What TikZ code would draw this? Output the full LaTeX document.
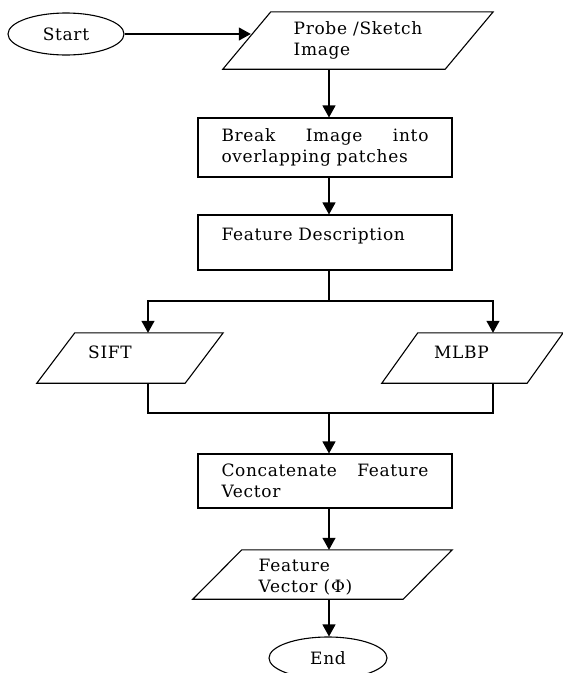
\documentclass[tikz,border=0pt]{standalone}
\usepackage{fontspec}
\setmainfont[LetterSpace=4]{DejaVu Serif}
\usetikzlibrary{shapes.geometric,arrows.meta,calc}
\newcommand\parallelo[2]{\draw[line] ($(#1.north west)+(#2,0)$) -- (#1.north east) -- ($(#1.south east)-(#2,0)$) -- (#1.south west) -- cycle;}
\begin{document}
\begin{tikzpicture}[x=1pt,y=-1pt,
  every node/.style={font=\fontsize{17}{21}\selectfont},
  line/.style={line width=1.1pt},
  base/.style={draw, line width=1.1pt, inner sep=0pt},
  term/.style={base, ellipse, minimum width=116pt, minimum height=42pt},
  io/.style={inner sep=0pt, rectangle},
  proc/.style={base, rectangle, minimum width=254pt, text width=207pt, align=left},
  arr/.style={line, -{Triangle[length=12pt,width=13pt]}}
]
\useasboundingbox (0,0) rectangle (563,673);
\coordinate (ax) at (329,0);
\coordinate (lx) at (148,0);
\coordinate (rx) at (493,0);

\node[term] (start) at (66,34) {Start};
\node[io, minimum width=270pt, minimum height=57pt, align=left] (p1) at (358,40.5)
      {Probe /Sketch\\Image};
\node[proc, minimum height=59pt] (b1) at (325,147.5)
      {\hbox to 207pt{Break\hfill Image\hfill into}\\overlapping patches};
\node[proc, minimum height=55pt] (b2) at (325,242.5)
      {Feature Description\\[-5pt]~};
\node[io, minimum width=186pt, minimum height=50pt,
      label={[xshift=-20pt,yshift=6pt]center:SIFT}] (sift) at (130,358) {};
\node[io, minimum width=181pt, minimum height=50pt,
      label={[xshift=-11pt,yshift=6pt]center:MLBP}] (mlbp) at (472.5,358) {};
\node[proc, minimum height=54pt] (b3) at (325,481)
      {\hbox to 207pt{Concatenate\hfill Feature}\\Vector};
\node[io, minimum width=259pt, minimum height=49pt,
      label={[xshift=-17pt,yshift=-3pt,align=left]center:Feature\\Vector (Φ)}] (p2) at (322.5,574.5) {};
\node[term, minimum width=118pt] (end) at (328,658) {End};

\parallelo{p1}{48}
\parallelo{sift}{38}
\parallelo{mlbp}{36}
\parallelo{p2}{49}

\coordinate (p1in) at ($(p1.south west)+(28,-35)$);
\coordinate (fork) at (329,301);
\coordinate (join) at (329,413);

\draw[arr] (start.east) -- (start.east -| p1in);
\draw[arr] (p1.south -| ax) -- (b1.north -| ax);
\draw[arr] (b1.south -| ax) -- (b2.north -| ax);
\draw[line] (b2.south -| ax) -- (fork);
\draw[arr] (fork) -| (sift.north -| lx);
\draw[arr] (fork) -| (mlbp.north -| rx);
\draw[line] (sift.south -| lx) |- (join);
\draw[line] (mlbp.south -| rx) |- (join);
\draw[arr] (join) -- (b3.north -| ax);
\draw[arr] (b3.south -| ax) -- (p2.north -| ax);
\draw[arr] (p2.south -| ax) -- (end.north -| ax);
\end{tikzpicture}
\end{document}
